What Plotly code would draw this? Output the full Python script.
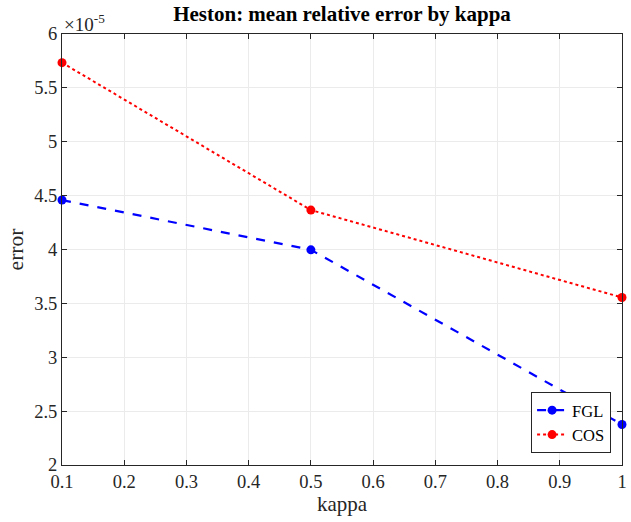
import plotly.graph_objects as go

kappa = [0.1, 0.5, 1.0]
fgl = [4.459e-5, 3.997e-5, 2.376e-5]
cos_err = [5.734e-5, 4.366e-5, 3.555e-5]
x_ticks = [0.1, 0.2, 0.3, 0.4, 0.5, 0.6, 0.7, 0.8, 0.9, 1.0]
x_tick_text = ["0.1", "0.2", "0.3", "0.4", "0.5", "0.6", "0.7", "0.8", "0.9", "1"]
y_ticks = [2e-5, 2.5e-5, 3e-5, 3.5e-5, 4e-5, 4.5e-5, 5e-5, 5.5e-5, 6e-5]
y_tick_text = ["2", "2.5", "3", "3.5", "4", "4.5", "5", "5.5", "6"]

serif = "Liberation Serif"

fig = go.Figure()
fig.add_trace(go.Scatter(x=kappa, y=fgl, name="FGL", mode="lines+markers",
                         line=dict(color="#0000ff", width=2.2, dash="dash"),
                         marker=dict(symbol="circle", size=9, color="#0000ff"),
                         cliponaxis=False))
fig.add_trace(go.Scatter(x=kappa, y=cos_err, name="COS", mode="lines+markers",
                         line=dict(color="#ff0000", width=2, dash="dot"),
                         marker=dict(symbol="circle", size=9, color="#ff0000"),
                         cliponaxis=False))

def axis_style():
    return dict(showline=True, linecolor="#262626", linewidth=1, mirror="ticks",
                ticks="inside", ticklen=5, tickcolor="#262626",
                showgrid=True, gridcolor="#ebebeb", gridwidth=1,
                zeroline=False, ticklabeloverflow="allow")

fig.update_layout(
    width=631, height=522,
    margin=dict(l=62, r=4, t=34, b=57),
    paper_bgcolor="white", plot_bgcolor="white",
    font=dict(family=serif, size=18, color="#262626"),
    title=dict(text="<b>Heston: mean relative error by kappa</b>",
               font=dict(family=serif, size=21, color="black"),
               x=0.542, xanchor="center", y=0.973, yanchor="middle"),
    xaxis=dict(range=[0.1, 1.0], tickmode="array", tickvals=x_ticks, ticktext=x_tick_text,
               tickfont=dict(family=serif, size=18.5, color="#262626"),
               title=dict(text="kappa", font=dict(family=serif, size=21, color="#262626"), standoff=4),
               **axis_style()),
    yaxis=dict(range=[2e-5, 6e-5], tickmode="array", tickvals=y_ticks, ticktext=y_tick_text,
               tickfont=dict(family=serif, size=18.5, color="#262626"),
               title=dict(text="error", font=dict(family=serif, size=21.5, color="#262626"), standoff=4),
               **axis_style()),
    legend=dict(x=0.9805, y=0.028, xanchor="right", yanchor="bottom",
                bgcolor="white", bordercolor="#262626", borderwidth=1,
                font=dict(family=serif, size=16.5, color="black"),
                tracegroupgap=0, itemwidth=30, entrywidth=80),
    showlegend=True,
)

fig.add_annotation(text="×10<sup>-5</sup>", xref="paper", yref="paper",
                   x=0.0, y=1.0, xanchor="left", yanchor="bottom", showarrow=False,
                   font=dict(family=serif, size=19, color="#262626"), yshift=-3)

fig.write_html("out.html")
